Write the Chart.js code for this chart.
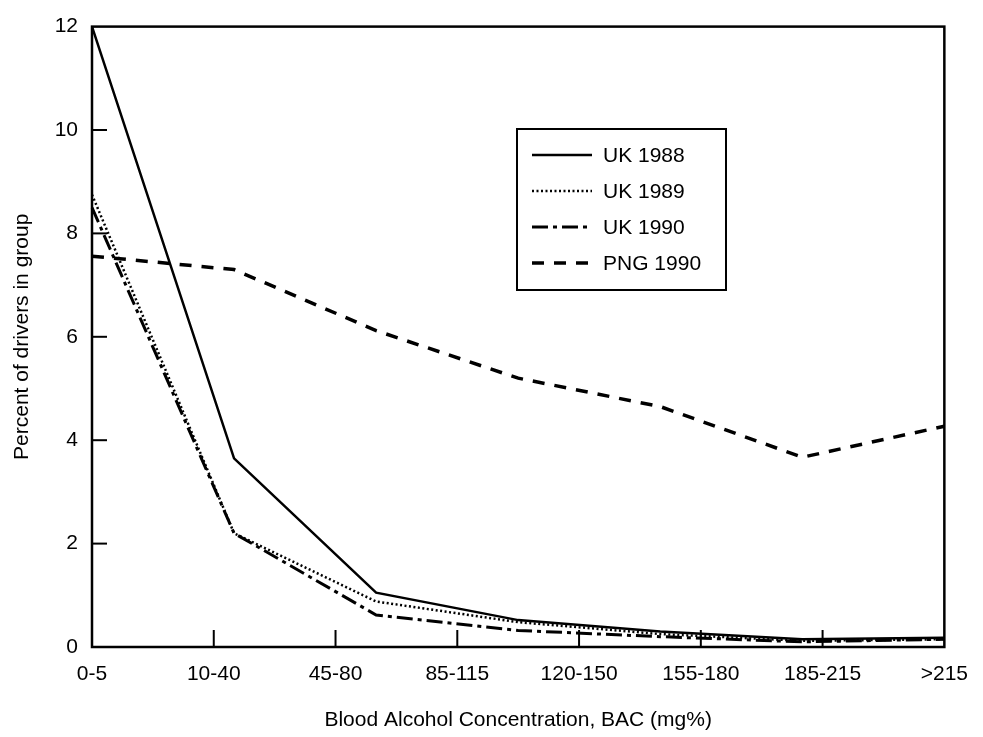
<!DOCTYPE html>
<html>
<head>
<meta charset="utf-8">
<script src="https://cdn.jsdelivr.net/npm/chart.js@4.4.0/dist/chart.umd.min.js"></script>
<style>
  html, body { margin: 0; padding: 0; background: #fff; }
</style>
</head>
<body>
<canvas id="chart" width="983" height="737"></canvas>
<script>
// axis categories (printed labels) and the 7 sampled points of each curve
const bacGroups = ['0-5', '10-40', '45-80', '85-115', '120-150', '155-180', '185-215', '>215'];
const samplePoints = ['1', '2', '3', '4', '5', '6', '7'];
const yTicks = [0, 2, 4, 6, 8, 10, 12];

const uk1988 = [12, 3.65, 1.05, 0.52, 0.3, 0.15, 0.18];
const uk1989 = [8.75, 2.2, 0.88, 0.48, 0.25, 0.12, 0.15];
const uk1990 = [8.5, 2.2, 0.62, 0.32, 0.2, 0.1, 0.15];
const png1990 = [7.56, 7.3, 6.12, 5.2, 4.65, 3.67, 4.27];

const ink = '#000';
const font = { family: '"Liberation Sans", Arial, sans-serif', size: 21 };

function strokeLine(ctx, x1, y1, x2, y2) {
  ctx.beginPath();
  ctx.moveTo(x1, y1);
  ctx.lineTo(x2, y2);
  ctx.stroke();
}

// box round the plot + tick marks pointing inward
const framePlugin = {
  id: 'frame',
  afterDatasetsDraw(chart) {
    const { ctx, chartArea: a, scales } = chart;
    ctx.save();
    ctx.strokeStyle = ink;
    ctx.lineWidth = 2.5;
    ctx.strokeRect(a.left, a.top, a.right - a.left, a.bottom - a.top);
    ctx.lineWidth = 2;
    scales.y.ticks.forEach((t, i) => {
      if (i === 0 || i === scales.y.ticks.length - 1) return;
      const y = scales.y.getPixelForTick(i);
      strokeLine(ctx, a.left, y, a.left + 15, y);
    });
    scales.x.ticks.forEach((t, i) => {
      if (i === 0 || i === scales.x.ticks.length - 1) return;
      const x = scales.x.getPixelForTick(i);
      strokeLine(ctx, x, a.bottom, x, a.bottom - 17);
    });
    ctx.restore();
  }
};

// framed legend inside the plot
const legendPlugin = {
  id: 'boxLegend',
  afterDraw(chart) {
    const ctx = chart.ctx;
    const box = { x: 517, y: 129, w: 209, h: 161 };
    ctx.save();
    ctx.strokeStyle = ink;
    ctx.lineWidth = 2;
    ctx.strokeRect(box.x, box.y, box.w, box.h);
    ctx.font = `${font.size}px ${font.family}`;
    ctx.textBaseline = 'middle';
    ctx.fillStyle = ink;
    chart.data.datasets.forEach((ds, i) => {
      const y = box.y + 26 + i * 36;
      ctx.lineWidth = ds.borderWidth;
      ctx.setLineDash(ds.borderDash || []);
      strokeLine(ctx, box.x + 15, y, box.x + 75, y);
      ctx.setLineDash([]);
      ctx.fillText(ds.label, box.x + 86, y + 1);
    });
    ctx.restore();
  }
};

new Chart(document.getElementById('chart'), {
  type: 'line',
  data: {
    datasets: [
      { label: 'UK 1988', data: uk1988, borderWidth: 2.5, borderDash: [] },
      { label: 'UK 1989', data: uk1989, borderWidth: 2.5, borderDash: [2, 2.5] },
      { label: 'UK 1990', data: uk1990, borderWidth: 3, borderDash: [16, 5, 4, 5] },
      { label: 'PNG 1990', data: png1990, borderWidth: 3.5, borderDash: [12, 10] }
    ].map(ds => ({
      ...ds,
      xAxisID: 'xData',
      borderColor: ink,
      backgroundColor: ink,
      fill: false,
      pointRadius: 0,
      tension: 0
    }))
  },
  options: {
    responsive: false,
    animation: false,
    devicePixelRatio: 1,
    layout: { padding: { left: 10, right: 26, top: 20, bottom: 4 } },
    plugins: {
      legend: { display: false },
      tooltip: { enabled: false }
    },
    scales: {
      x: {
        type: 'category',
        labels: bacGroups,
        offset: false,
        grid: { display: false, drawTicks: false },
        border: { display: false },
        ticks: { color: ink, font, padding: 15, autoSkip: false, maxRotation: 0 },
        title: {
          display: true,
          text: 'Blood Alcohol Concentration, BAC (mg%)',
          color: ink,
          font,
          padding: 0
        },
        afterFit(scale) { scale.height = 86; }
      },
      xData: {
        type: 'category',
        axis: 'x',
        position: 'bottom',
        labels: samplePoints,
        offset: false,
        display: false
      },
      y: {
        min: 0,
        max: 12,
        grid: { display: false, drawTicks: false },
        border: { display: false },
        ticks: { color: ink, font, padding: 14 },
        afterBuildTicks(scale) { scale.ticks = yTicks.map(v => ({ value: v })); },
        title: {
          display: true,
          text: 'Percent of drivers in group',
          color: ink,
          font,
          padding: 0
        },
        afterFit(scale) { scale.width = 82; }
      }
    }
  },
  plugins: [framePlugin, legendPlugin]
});
</script>
</body>
</html>
